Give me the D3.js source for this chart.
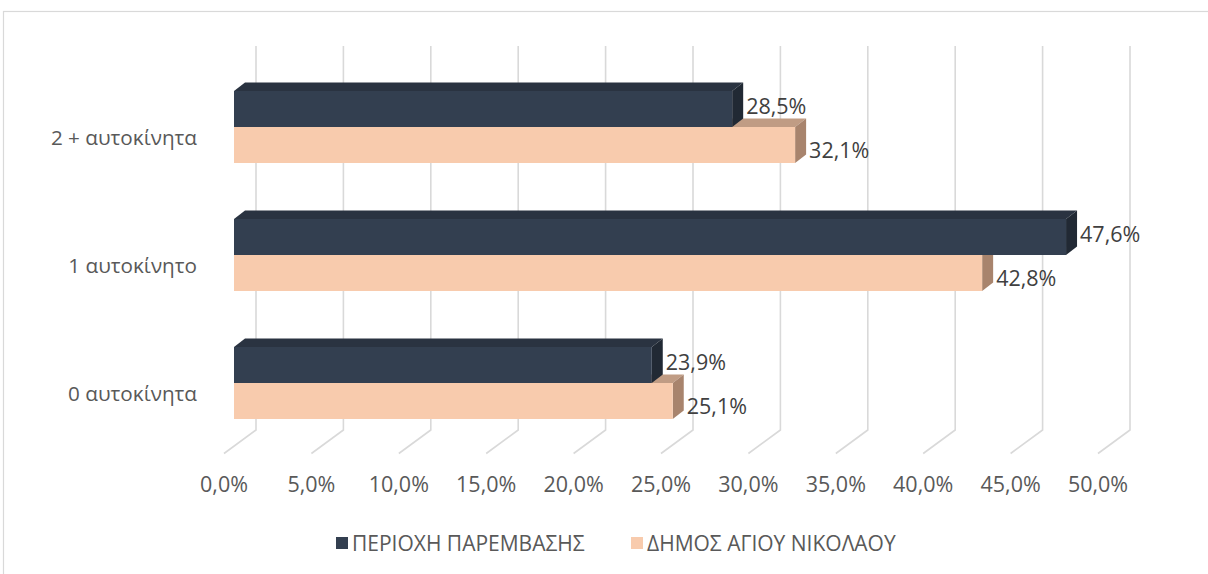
<!DOCTYPE html>
<html>
<head>
<meta charset="utf-8">
<script src="https://cdn.jsdelivr.net/npm/d3@7"></script>
<style>
  html, body { margin: 0; padding: 0; background: #ffffff; }
  svg { display: block; }
  text { font-family: "Open Sans", "Noto Sans", sans-serif; fill: #595959; }
</style>
</head>
<body>
<script>
// Car ownership per household: intervention area vs. municipality
const categories = ["2 + αυτοκίνητα", "1 αυτοκίνητο", "0 αυτοκίνητα"];
const seriesNames = ["ΠΕΡΙΟΧΗ ΠΑΡΕΜΒΑΣΗΣ", "ΔΗΜΟΣ ΑΓΙΟΥ ΝΙΚΟΛΑΟΥ"];
const areaValues = [28.5, 47.6, 23.9];
const municipalityValues = [32.1, 42.8, 25.1];
const xTicks = [0, 5, 10, 15, 20, 25, 30, 35, 40, 45, 50];

const W = 1208, H = 574;

// Face colours for each series: front, top, side
const palette = [
  { front: "#333f50", top: "#2a3341", side: "#212934" },
  { front: "#f8cbad", top: "#c09c84", side: "#a8846d" }
];

const locale = d3.formatLocale({ decimal: ",", thousands: ".", grouping: [3], currency: ["", "€"] });
const fmt = v => locale.format(".1f")(v) + "%";

// 3D projection: bars have a shallow depth, the back wall sits further back
const depth = { dx: 11, dy: -8.5 };        // bar depth
const wall = { dx: 22, dy: -17 };          // front plane -> back wall
const floorFront = { dx: -32, dy: 23.5 };  // back wall -> front edge of floor

const svg = d3.select("body").append("svg")
  .attr("width", W).attr("height", H);

// outer chart frame
svg.append("rect")
  .attr("x", 3.5).attr("y", 11.5)
  .attr("width", W + 20).attr("height", H + 20)
  .attr("fill", "none").attr("stroke", "#d9d9d9").attr("stroke-width", 1.2);

const x = d3.scaleLinear().domain([0, 50]).range([234, 234 + 17.48 * 50]);
const y = d3.scaleBand().domain(categories).range([63, 447])
  .paddingInner(0.4375).paddingOuter(0.21875);
const ySub = d3.scaleBand().domain([0, 1]).range([0, y.bandwidth()]);

const wallTop = y.range()[0] + wall.dy;
const wallBottom = y.range()[1] + wall.dy;

// back-wall gridlines and floor diagonals
const grid = svg.append("g").attr("stroke", "#d9d9d9").attr("stroke-width", 1.6).attr("fill", "none");
xTicks.forEach(t => {
  const xb = x(t) + wall.dx;
  grid.append("path")
    .attr("d", `M${xb},${wallTop}L${xb},${wallBottom}L${xb + floorFront.dx},${wallBottom + floorFront.dy}`);
});

// tick labels
svg.append("g").selectAll("text").data(xTicks).join("text")
  .attr("x", t => x(t) + wall.dx + floorFront.dx)
  .attr("y", wallBottom + floorFront.dy + 30)
  .attr("text-anchor", "middle")
  .attr("dominant-baseline", "central")
  .attr("font-size", 21.5)
  .text(fmt);

// category labels
svg.append("g").selectAll("text").data(categories).join("text")
  .attr("x", 197)
  .attr("y", c => y(c) + y.bandwidth() / 2 + 10)
  .attr("text-anchor", "end")
  .attr("dominant-baseline", "central")
  .attr("font-size", 20.7)
  .text(c => c);

// bar records: municipality first so the area bars sit over its top face
const bars = [];
[municipalityValues, areaValues].forEach((vals, k) => {
  const s = k === 0 ? 1 : 0;
  categories.forEach((c, i) => bars.push({ cat: c, s, v: vals[i] }));
});

const gBars = svg.append("g");
bars.forEach(b => {
  const col = palette[b.s];
  const x0 = x(0), x1 = x(b.v);
  const y0 = y(b.cat) + ySub(b.s), h = ySub.bandwidth();
  const { dx, dy } = depth;
  const g = gBars.append("g");
  g.append("polygon")
    .attr("points", [[x0, y0], [x0 + dx, y0 + dy], [x1 + dx, y0 + dy], [x1, y0]].join(" "))
    .attr("fill", col.top);
  g.append("polygon")
    .attr("points", [[x1, y0], [x1 + dx, y0 + dy], [x1 + dx, y0 + h + dy], [x1, y0 + h]].join(" "))
    .attr("fill", col.side);
  g.append("rect")
    .attr("x", x0).attr("y", y0).attr("width", x1 - x0).attr("height", h)
    .attr("fill", col.front);
});

// value labels
svg.append("g").selectAll("text").data(bars).join("text")
  .attr("x", b => x(b.v) + 14)
  .attr("y", b => y(b.cat) + ySub(b.s) + ySub.bandwidth() / 2 + (b.s === 0 ? -4 : 4))
  .attr("dominant-baseline", "central")
  .attr("font-size", 21.5)
  .style("fill", "#404040")
  .text(b => fmt(b.v));

// legend
const legendX = [336, 631];
const lg = svg.append("g");
seriesNames.forEach((name, i) => {
  lg.append("rect")
    .attr("x", legendX[i]).attr("y", 537).attr("width", 12).attr("height", 12)
    .attr("fill", palette[i].front);
  lg.append("text")
    .attr("x", legendX[i] + 16).attr("y", 543)
    .attr("dominant-baseline", "central")
    .attr("font-size", 21)
    .text(name);
});
</script>
</body>
</html>
